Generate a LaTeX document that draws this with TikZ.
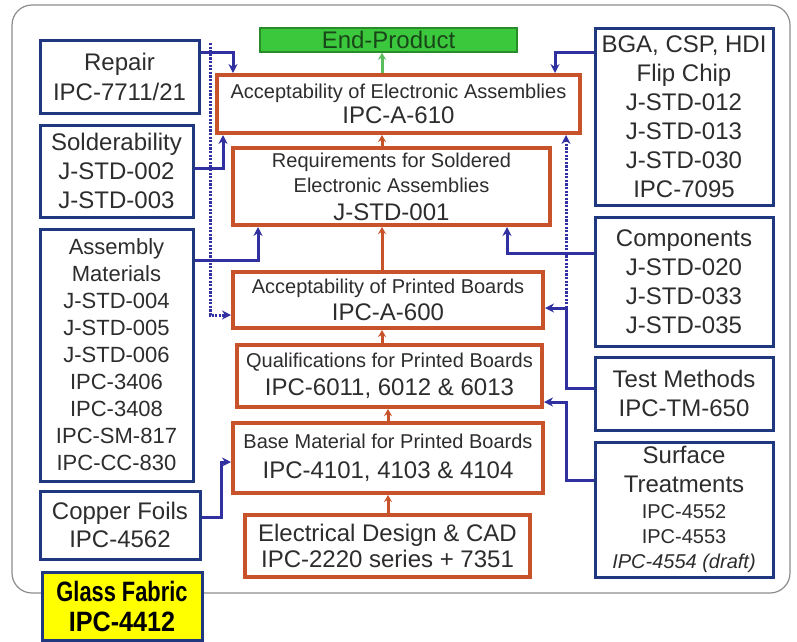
\documentclass[tikz,border=0pt]{standalone}
\usepackage{fontspec}
\setmainfont{Liberation Sans}
\usetikzlibrary{arrows.meta}
\definecolor{obord}{RGB}{200,82,42}
\definecolor{bbord}{RGB}{32,56,128}
\definecolor{conn}{RGB}{48,48,160}
\definecolor{txt}{RGB}{45,45,45}
\definecolor{gfill}{RGB}{60,200,60}
\definecolor{gbord}{RGB}{40,140,40}
\definecolor{garrow}{RGB}{90,190,90}
\definecolor{gtxt}{RGB}{25,70,25}
\definecolor{framec}{RGB}{140,140,140}
\definecolor{yfill}{RGB}{255,255,0}
\newcommand\fsz[2]{\fontsize{#1pt}{#2pt}\selectfont}
\begin{document}
\begin{tikzpicture}[x=1pt,y=-1pt,
  obox/.style={draw=obord, line width=4pt, fill=white, inner sep=0pt, align=center, text=txt},
  bbox/.style={draw=bbord, line width=3pt, fill=white, inner sep=0pt, align=center, text=txt},
  bconn/.style={draw=conn, line width=3pt, -{Stealth[length=9pt,width=9pt]}},
  dconn/.style={bconn, dash pattern=on 2.2pt off 1.4pt},
  oconn/.style={draw=obord, line width=3pt, -{Stealth[length=7pt,width=8pt]}},
  gconn/.style={draw=garrow, line width=3pt, -{Stealth[length=7pt,width=8pt]}}]
\useasboundingbox (0,0) rectangle (797,641);
\fill[white] (0,0) rectangle (797,641);
\draw[framec, line width=1.2pt, rounded corners=20pt] (12,5) rectangle (790,593);

% left boxes
\node[bbox, minimum width=159pt, minimum height=73pt, font=\fsz{24}{30}] (repair) at (119.5,76.5) {Repair\\IPC-7711/21};
\node[bbox, minimum width=153pt, minimum height=92pt, font=\fsz{24}{29}] (solder) at (116.5,171) {Solderability\\J-STD-002\\J-STD-003};
\node[bbox, minimum width=153pt, minimum height=252pt, font=\fsz{22}{27}] (am) at (116.5,355) {Assembly\\Materials\\J-STD-004\\J-STD-005\\J-STD-006\\IPC-3406\\IPC-3408\\IPC-SM-817\\IPC-CC-830};
\node[bbox, minimum width=160pt, minimum height=68pt, font=\fsz{24}{28}] (copper) at (120,525) {Copper Foils\\IPC-4562};
\node[bbox, fill=yfill, text=black, minimum width=160pt, minimum height=68pt, font=\fsz{28}{30}\bfseries] (glass) at (122,606) {\scalebox{0.78}[1]{Glass Fabric}\\\scalebox{0.9}[1]{IPC-4412}};

% centre column
\node[draw=gbord, line width=1.5pt, fill=gfill, text=gtxt, inner sep=0pt, minimum width=257pt, minimum height=24pt, font=\fsz{24}{28}] (endp) at (388.5,40) {End-Product};
\node[obox, minimum width=363pt, minimum height=58pt, font=\fsz{24}{25}] (a610) at (398.5,104) {{\fsz{20}{25}Acceptability of Electronic Assemblies}\\IPC-A-610};
\node[obox, minimum width=317pt, minimum height=77pt, font=\fsz{20}{25}] (j001) at (391.5,186.5) {Requirements for Soldered\\Electronic Assemblies\\[3pt]{\fsz{24}{28}J-STD-001}};
\node[obox, minimum width=310pt, minimum height=56pt, font=\fsz{24}{27}] (a600) at (388,300) {{\fsz{20}{27}Acceptability of Printed Boards}\\IPC-A-600};
\node[obox, minimum width=305pt, minimum height=62pt, font=\fsz{24}{28}] (q6011) at (389.5,376) {{\fsz{20}{28}Qualifications for Printed Boards}\\IPC-6011, 6012 \& 6013};
\node[obox, minimum width=310pt, minimum height=70pt, font=\fsz{24}{30}] (base) at (388,458) {{\fsz{20}{30}Base Material for Printed Boards}\\IPC-4101, 4103 \& 4104};
\node[obox, minimum width=285pt, minimum height=62pt, font=\fsz{24}{26}] (elec) at (387.5,546) {Electrical Design \& CAD\\IPC-2220 series + 7351};

% right boxes
\node[bbox, minimum width=178pt, minimum height=177pt, font=\fsz{24}{29}] (bga) at (684,116.5) {BGA, CSP, HDI\\Flip Chip\\J-STD-012\\J-STD-013\\J-STD-030\\IPC-7095};
\node[bbox, minimum width=178pt, minimum height=129pt, font=\fsz{24}{29}] (comp) at (684,281.5) {Components\\J-STD-020\\J-STD-033\\J-STD-035};
\node[bbox, minimum width=178pt, minimum height=73pt, font=\fsz{24}{29}] (test) at (684,393.5) {Test Methods\\IPC-TM-650};
\node[bbox, minimum width=178pt, minimum height=135pt, font=\fsz{20}{25}] (surf) at (684,509.5) {{\fsz{24}{29}Surface}\\[4pt]{\fsz{24}{29}Treatments}\\[1pt]IPC-4552\\IPC-4553\\\itshape IPC-4554 (draft)};

% helper coordinates
\coordinate (ox1) at (382,0);
\coordinate (ox2) at (388,0);
\coordinate (dtop) at (210,43);
\coordinate (jt) at (566,308);
\coordinate (js) at (566,402);

% orange / green flow
\draw[gconn] (a610.north -| ox1) -- (endp.south -| ox1);
\draw[oconn] (j001.north -| ox1) -- (a610.south -| ox1);
\draw[oconn] (a600.north -| ox1) -- (j001.south -| ox1);
\draw[oconn] (q6011.north -| ox1) -- (a600.south -| ox1);
\draw[oconn] (base.north -| ox2) -- (q6011.south -| ox2);
\draw[oconn] (elec.north -| ox2) -- (base.south -| ox2);

% blue connectors
\draw[bconn] ([yshift=24.5pt]repair.east) -| ([xshift=18pt]a610.north west);
\draw[bconn] ([yshift=3pt]solder.east) -| ([xshift=8pt]a610.south west);
\draw[dconn] (dtop) |- ([yshift=-15pt]a600.west);
\draw[bconn] ([yshift=95pt]am.east) -| ([xshift=27pt]j001.south west);
\draw[bconn] ([yshift=8pt]copper.east) -- ++(20,0) |- ([yshift=-4pt]base.west);
\draw[bconn] ([yshift=64.5pt]bga.west) -| ([xshift=-27pt]a610.north east);
\draw[bconn] ([yshift=28.5pt]comp.west) -| ([xshift=-45pt]j001.south east);
\draw[bconn] ([yshift=5.5pt]test.west) -| (jt) -- (jt -| a600.east);
\draw[dconn] (jt) -- (jt |- a610.south);
\draw[bconn] ([yshift=29.5pt]surf.west) -| (js) -- (js -| q6011.east);
\end{tikzpicture}
\end{document}
